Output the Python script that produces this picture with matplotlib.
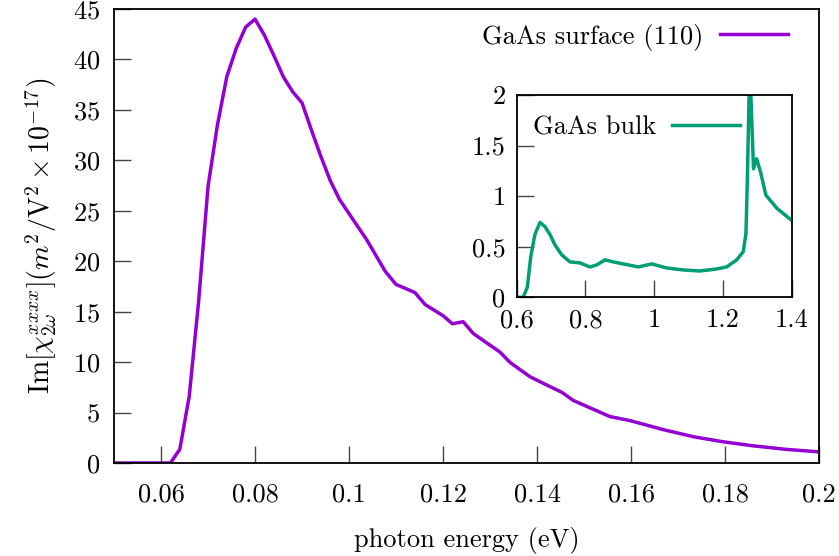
import matplotlib
matplotlib.use("Agg")
import matplotlib.pyplot as plt

plt.rcParams["font.family"] = "serif"
plt.rcParams["font.serif"] = ["cmr10"]
plt.rcParams["mathtext.fontset"] = "cm"
plt.rcParams["axes.formatter.use_mathtext"] = True
plt.rcParams["font.size"] = 19

# surface (110) spectrum
surfaceEnergy = [0.050, 0.062, 0.064, 0.066, 0.068, 0.070, 0.072, 0.074, 0.076, 0.078,
                 0.080, 0.082, 0.084, 0.086, 0.088, 0.090, 0.092, 0.094, 0.096, 0.098,
                 0.1038, 0.1077, 0.110, 0.114, 0.1162, 0.120, 0.122, 0.1243, 0.1264, 0.1293,
                 0.1321, 0.1343, 0.1385, 0.1413, 0.1453, 0.1477, 0.1555, 0.1598, 0.1669, 0.1733,
                 0.1796, 0.186, 0.193, 0.200]
surfaceChi = [0.0, 0.0, 1.36, 6.6, 16.0, 27.4, 33.5, 38.3, 41.1, 43.2,
              44.0, 42.4, 40.4, 38.3, 36.8, 35.7, 33.0, 30.4, 28.0, 26.1,
              22.1, 19.0, 17.7, 16.9, 15.7, 14.6, 13.8, 14.0, 12.85, 11.9,
              11.0, 9.95, 8.55, 7.9, 7.0, 6.2, 4.6, 4.2, 3.3, 2.6,
              2.1, 1.7, 1.35, 1.1]

# bulk spectrum (inset)
bulkEnergy = [0.600, 0.619, 0.631, 0.641, 0.653, 0.668, 0.682, 0.697, 0.711, 0.731,
              0.755, 0.784, 0.813, 0.833, 0.857, 0.881, 0.910, 0.954, 0.993, 1.036,
              1.085, 1.133, 1.182, 1.211, 1.240, 1.259, 1.267, 1.271, 1.278, 1.289,
              1.298, 1.310, 1.325, 1.357, 1.400]
bulkChi = [0.0, 0.0, 0.10, 0.40, 0.62, 0.74, 0.70, 0.62, 0.52, 0.42,
           0.35, 0.34, 0.30, 0.32, 0.37, 0.35, 0.33, 0.30, 0.33, 0.29,
           0.27, 0.26, 0.28, 0.30, 0.37, 0.45, 0.63, 1.16, 2.3, 1.27,
           1.37, 1.23, 1.01, 0.88, 0.76]

purple = "#9400D3"
green = "#009E73"

fig = plt.figure(figsize=(8.39, 5.56), dpi=100)
ax = fig.add_axes([0.1359, 0.1673, 0.8403, 0.8165])
ax.plot(surfaceEnergy, surfaceChi, color=purple, lw=2.5, label="GaAs surface (110)")
ax.set_xlim(0.05, 0.2)
ax.set_ylim(0, 45)
ax.set_xticks([0.06, 0.08, 0.1, 0.12, 0.14, 0.16, 0.18, 0.2])
ax.set_xticklabels(["0.06", "0.08", "0.1", "0.12", "0.14", "0.16", "0.18", "0.2"])
ax.set_yticks(range(0, 46, 5))
ax.tick_params(direction="in", length=12, width=1.0, color="#444444", pad=14)
ax.tick_params(axis="y", pad=10)
for s in ax.spines.values():
    s.set_linewidth(1.3)
ax.set_xlabel("photon energy (eV)", labelpad=15)
ax.set_ylabel(r"$\mathrm{Im}[\chi^{xxxx}_{2\omega}](m^2/\mathrm{V}^2\times 10^{-17})$",
              fontsize=20, labelpad=10)
ax.legend(loc="upper right", frameon=False, markerfirst=False, handlelength=2.6,
          handletextpad=0.6, bbox_to_anchor=(0.99, 1.02))

ins = fig.add_axes([0.6158, 0.4653, 0.3278, 0.3639])
ins.plot(bulkEnergy, bulkChi, color=green, lw=2.5, label="GaAs bulk")
ins.set_xlim(0.6, 1.4)
ins.set_ylim(0, 2)
ins.set_xticks([0.6, 0.8, 1.0, 1.2, 1.4])
ins.set_xticklabels(["0.6", "0.8", "1", "1.2", "1.4"])
ins.set_yticks([0, 0.5, 1, 1.5, 2])
ins.set_yticklabels(["0", "0.5", "1", "1.5", "2"])
ins.tick_params(direction="in", length=12, width=1.0, color="#444444", pad=8)
for s in ins.spines.values():
    s.set_linewidth(1.3)
ins.legend(loc="upper right", frameon=False, markerfirst=False, handlelength=2.6,
           handletextpad=0.6, bbox_to_anchor=(0.9, 1.015))

fig.savefig("out.png", dpi=100)
